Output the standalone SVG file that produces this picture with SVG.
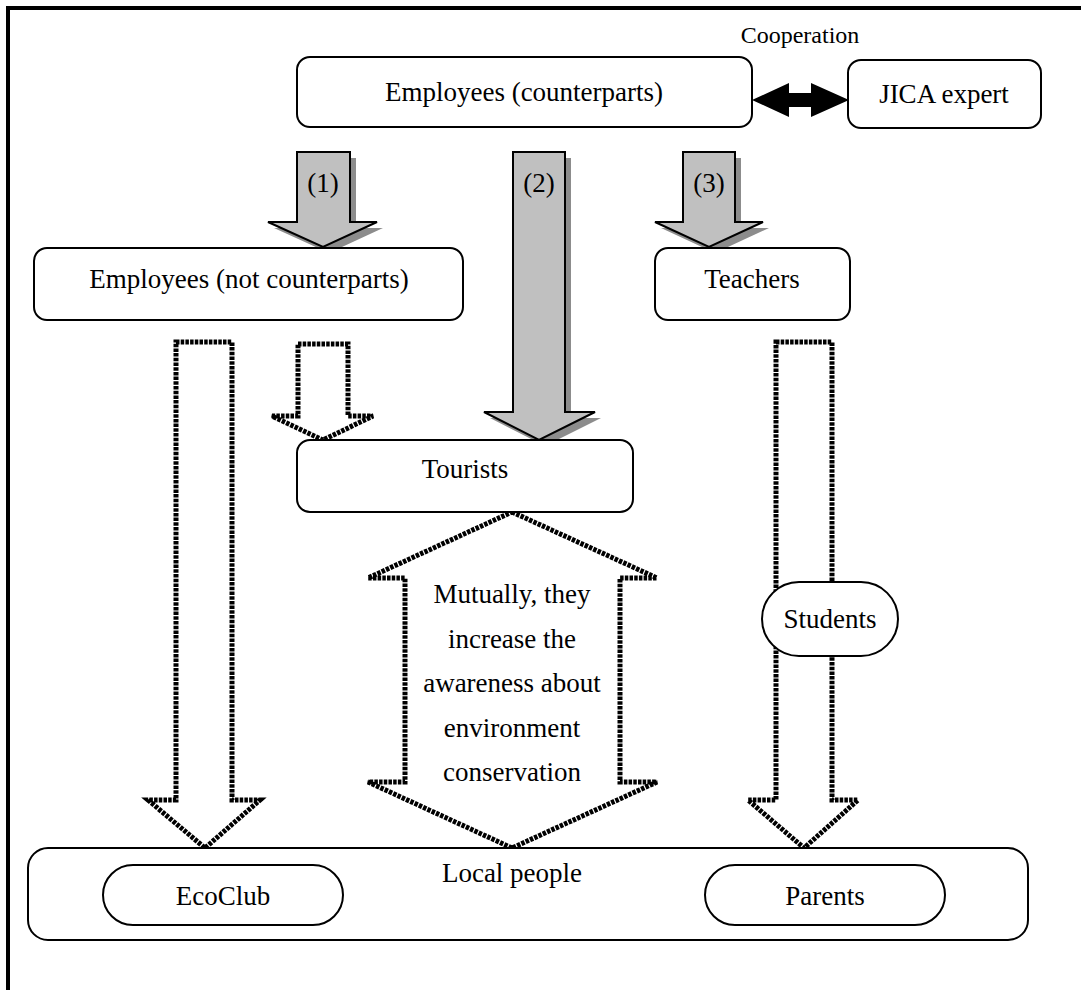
<svg xmlns="http://www.w3.org/2000/svg" width="1081" height="990" viewBox="0 0 1081 990">
<style>
text{font-family:"Liberation Serif","Times New Roman",serif;font-size:27px;fill:#000;text-anchor:middle}
.box{fill:#fff;stroke:#000;stroke-width:2}
.gray{fill:#c0c0c0;stroke:#000;stroke-width:2;stroke-linejoin:miter}
.shadow{fill:#8c8c8c;stroke:none}
.dot{fill:#fff;stroke:#000;stroke-width:5;stroke-dasharray:3.5 1.2;stroke-linejoin:miter}
</style>
<rect x="8" y="8" width="1100" height="1010" fill="#fff" stroke="#000" stroke-width="4"/>
<g id="connectors">
  <g id="arrow1">
    <polygon class="shadow" transform="translate(6,6)" points="297,152 350,152 350,222 377,222 323,247 268,222 297,222"/>
    <polygon class="gray" points="297,152 350,152 350,222 377,222 323,247 268,222 297,222"/>
    <text x="323" y="192">(1)</text>
  </g>
  <g id="arrow2">
    <polygon class="shadow" transform="translate(6,6)" points="513,152 565,152 565,412 595,412 539,440 484,412 513,412"/>
    <polygon class="gray" points="513,152 565,152 565,412 595,412 539,440 484,412 513,412"/>
    <text x="539" y="192">(2)</text>
  </g>
  <g id="arrow3">
    <polygon class="shadow" transform="translate(6,6)" points="683,152 735,152 735,222 763,222 709,247 655,222 683,222"/>
    <polygon class="gray" points="683,152 735,152 735,222 763,222 709,247 655,222 683,222"/>
    <text x="709" y="192">(3)</text>
  </g>
  <polygon id="coop-arrow" fill="#000" points="752,100 789,83 789,93 811,93 811,83 849,100 811,117 811,107 789,107 789,117"/>
  <polygon id="dot-left" class="dot" points="176,342 232,342 232,800 260,800 205,848 148,800 176,800"/>
  <polygon id="dot-small" class="dot" points="298,344 348,344 348,416 373,416 323,440 272,416 298,416"/>
  <polygon id="dot-right" class="dot" points="776,342 832,342 832,800 858,800 804,848 748,800 776,800"/>
  <polygon id="dot-double" class="dot" points="512,512 657,578 620,578 620,782 657,782 512,848 368,782 405,782 405,578 368,578"/>
</g>
<text x="800" y="43" style="font-size:24px">Cooperation</text>
<g id="emp-counterparts">
  <rect class="box" x="297" y="57" width="455" height="70" rx="13"/>
  <text x="524" y="101">Employees (counterparts)</text>
</g>
<g id="jica">
  <rect class="box" x="848" y="60" width="193" height="68" rx="13"/>
  <text x="944" y="103">JICA expert</text>
</g>
<g id="emp-not">
  <rect class="box" x="34" y="248" width="429" height="72" rx="13"/>
  <text x="249" y="288">Employees (not counterparts)</text>
</g>
<g id="teachers">
  <rect class="box" x="655" y="248" width="195" height="72" rx="13"/>
  <text x="752" y="288">Teachers</text>
</g>
<g id="tourists">
  <rect class="box" x="297" y="440" width="336" height="72" rx="13"/>
  <text x="465" y="478">Tourists</text>
</g>
<text x="512" y="603">Mutually, they</text>
<text x="512" y="648">increase the</text>
<text x="512" y="692">awareness about</text>
<text x="512" y="737">environment</text>
<text x="512" y="781">conservation</text>
<g id="students">
  <rect class="box" x="762" y="582" width="136" height="74" rx="37"/>
  <text x="830" y="628">Students</text>
</g>
<g id="local">
  <rect class="box" x="28" y="848" width="1000" height="92" rx="20"/>
  <text x="512" y="882">Local people</text>
</g>
<g id="ecoclub">
  <rect class="box" x="103" y="865" width="240" height="60" rx="30"/>
  <text x="223" y="905">EcoClub</text>
</g>
<g id="parents">
  <rect class="box" x="705" y="865" width="240" height="60" rx="30"/>
  <text x="825" y="905">Parents</text>
</g>
</svg>
